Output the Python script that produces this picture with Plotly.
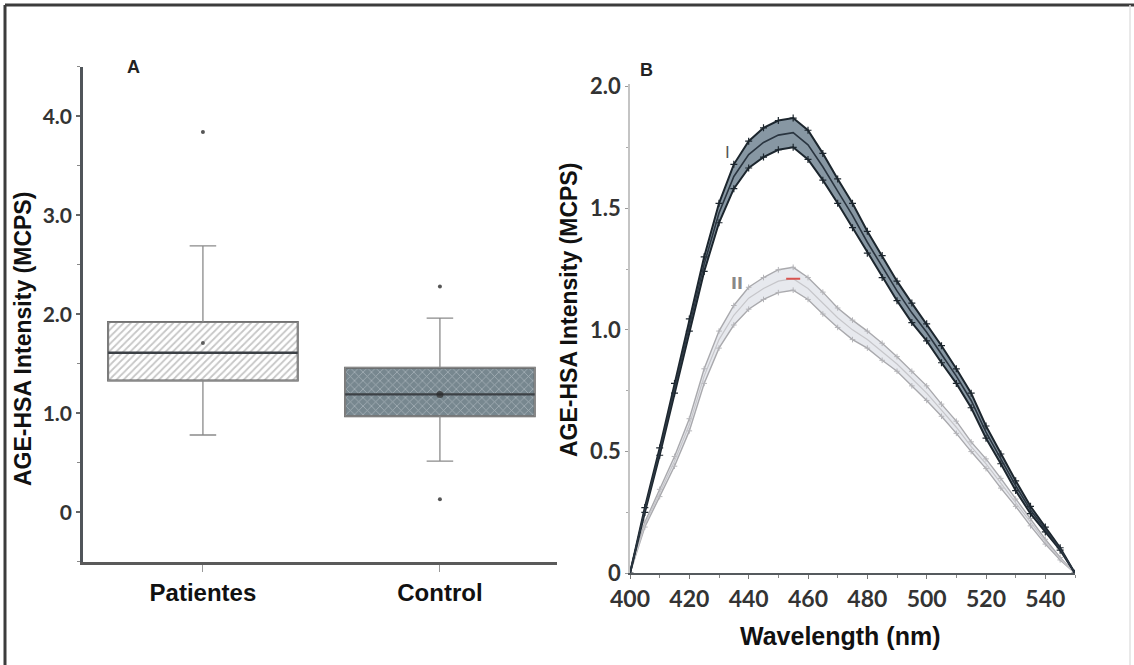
import plotly.graph_objects as go

# ---------------- Panel A data (box statistics) -------------
groups = ["Patientes", "Control"]
group_pos = [0, 1]
q1 = [1.33, 0.97]
median = [1.61, 1.19]
q3 = [1.92, 1.46]
mean = [1.71, 1.19]
lowerfence = [0.78, 0.515]
upperfence = [2.69, 1.96]
outliers_pat = [3.84]
outliers_ctl = [2.28, 0.13]

# ---------------- Panel B data (spectra) ------------------------------------------
wavelength = [400, 405, 410, 415, 420, 425, 430, 435, 440, 445, 450, 455, 460, 465,
              470, 475, 480, 485, 490, 495, 500, 505, 510, 515, 520, 525, 530, 535,
              540, 545, 550]
I_mean = [0.00, 0.26, 0.50, 0.76, 1.02, 1.27, 1.48, 1.63, 1.72, 1.77, 1.80, 1.81,
          1.76, 1.67, 1.57, 1.47, 1.36, 1.26, 1.16, 1.07, 0.99, 0.90, 0.81, 0.71,
          0.58, 0.47, 0.36, 0.26, 0.18, 0.10, 0.00]
I_err = [0.00, 0.01, 0.015, 0.02, 0.025, 0.03, 0.04, 0.05, 0.055, 0.06, 0.06, 0.06,
         0.06, 0.055, 0.05, 0.05, 0.045, 0.045, 0.04, 0.04, 0.035, 0.035, 0.03, 0.03,
         0.025, 0.02, 0.02, 0.015, 0.01, 0.005, 0.00]
II_mean = [0.00, 0.20, 0.33, 0.46, 0.61, 0.81, 0.96, 1.06, 1.13, 1.17, 1.20, 1.21,
           1.17, 1.11, 1.05, 1.00, 0.96, 0.91, 0.86, 0.80, 0.74, 0.67, 0.60, 0.52,
           0.45, 0.37, 0.29, 0.21, 0.13, 0.06, 0.00]
II_err = [0.00, 0.01, 0.015, 0.02, 0.025, 0.03, 0.035, 0.04, 0.045, 0.045, 0.047,
          0.047, 0.045, 0.045, 0.04, 0.04, 0.035, 0.035, 0.03, 0.03, 0.03, 0.025,
          0.025, 0.02, 0.02, 0.02, 0.015, 0.015, 0.01, 0.005, 0.00]

x_ticks_b = [400, 420, 440, 460, 480, 500, 520, 540]
y_ticks_b = [0, 0.5, 1.0, 1.5, 2.0]
y_ticktext_b = ["0", "0.5", "1.0", "1.5", "2.0"]
y_ticks_a = [0, 1, 2, 3, 4]
y_ticktext_a = ["0", "1.0", "2.0", "3.0", "4.0"]

W, H = 1134, 665
def px_x(a, b):
    return [a / W, b / W]
def px_y(top, bottom):
    return [1 - bottom / H, 1 - top / H]

fig = go.Figure()

# ---- Panel A: patterned box bodies (bars from q1 to q3)
bar_patterns = [
    dict(shape="/", fgcolor="#8e8e8e", bgcolor="#ffffff", size=5, solidity=0.35),
    dict(shape="x", fgcolor="#d4dadf", bgcolor="#77878f", size=6, solidity=0.25),
]
for i in range(2):
    fig.add_trace(go.Bar(
        x=[group_pos[i]], y=[q3[i] - q1[i]], base=[q1[i]], width=0.80,
        marker=dict(color="#ffffff", pattern=bar_patterns[i],
                    line=dict(color="#5a5a5a", width=2)),
        xaxis="x", yaxis="y", showlegend=False, hoverinfo="skip"))

# whiskers via box traces
for i in range(2):
    fig.add_trace(go.Box(
        x=[group_pos[i]], q1=[q1[i]], median=[median[i]], q3=[q3[i]],
        lowerfence=[lowerfence[i]], upperfence=[upperfence[i]],
        width=0.80, whiskerwidth=0.14, fillcolor="rgba(0,0,0,0)",
        line=dict(color="#8a8a8a", width=1.3),
        xaxis="x", yaxis="y", showlegend=False, boxpoints=False))
    # dark median line
    fig.add_trace(go.Box(
        x=[group_pos[i]], q1=[median[i]], median=[median[i]], q3=[median[i]],
        lowerfence=[median[i]], upperfence=[median[i]],
        width=0.80, fillcolor="rgba(0,0,0,0)",
        line=dict(color="#3c4146", width=2.4),
        xaxis="x", yaxis="y", showlegend=False, boxpoints=False))

# means and outliers
fig.add_trace(go.Scatter(x=group_pos, y=mean, mode="markers",
                         marker=dict(color="#2a2a2a", size=[4, 7], line=dict(width=0)),
                         xaxis="x", yaxis="y", showlegend=False))
fig.add_trace(go.Scatter(x=[group_pos[0]] * len(outliers_pat) + [group_pos[1]] * len(outliers_ctl),
                         y=outliers_pat + outliers_ctl, mode="markers",
                         marker=dict(color="#555555", size=4, line=dict(width=0)),
                         xaxis="x", yaxis="y", showlegend=False))

# ---- Panel B: spectra with bands
I_up = [m + e for m, e in zip(I_mean, I_err)]
I_lo = [m - e for m, e in zip(I_mean, I_err)]
II_up = [m + e for m, e in zip(II_mean, II_err)]
II_lo = [m - e for m, e in zip(II_mean, II_err)]

mk_dark = dict(symbol="cross-thin", size=5, line=dict(color="#1c262e", width=1.2), color="#1c262e")
mk_light = dict(symbol="cross-thin", size=4, line=dict(color="#b4b4b8", width=1), color="#b4b4b8")

fig.add_trace(go.Scatter(x=wavelength, y=II_up, mode="lines+markers",
                         line=dict(color="#a9a9ad", width=1.4), marker=mk_light,
                         xaxis="x2", yaxis="y2", showlegend=False))
fig.add_trace(go.Scatter(x=wavelength, y=II_lo, mode="lines+markers", fill="tonexty",
                         fillcolor="rgba(225,228,234,0.8)",
                         line=dict(color="#a9a9ad", width=1.4), marker=mk_light,
                         xaxis="x2", yaxis="y2", showlegend=False))
fig.add_trace(go.Scatter(x=wavelength, y=II_mean, mode="lines",
                         line=dict(color="#c6c6ca", width=1.2),
                         xaxis="x2", yaxis="y2", showlegend=False))
peak_i = II_mean.index(max(II_mean))
fig.add_trace(go.Scatter(x=[wavelength[peak_i]], y=[II_mean[peak_i]], mode="markers",
                         marker=dict(symbol="line-ew", size=10,
                                     line=dict(color="#d9534f", width=2)),
                         xaxis="x2", yaxis="y2", showlegend=False))

fig.add_trace(go.Scatter(x=wavelength, y=I_up, mode="lines+markers",
                         line=dict(color="#1c262e", width=2), marker=mk_dark,
                         xaxis="x2", yaxis="y2", showlegend=False))
fig.add_trace(go.Scatter(x=wavelength, y=I_lo, mode="lines+markers", fill="tonexty",
                         fillcolor="#8797a3",
                         line=dict(color="#1c262e", width=2), marker=mk_dark,
                         xaxis="x2", yaxis="y2", showlegend=False))
fig.add_trace(go.Scatter(x=wavelength, y=I_mean, mode="lines",
                         line=dict(color="#2a3540", width=1.6),
                         xaxis="x2", yaxis="y2", showlegend=False))

tick_a = dict(family="Lato", size=21, color="#333333")
tick_by = dict(family="Lato", size=22, color="#333333")
tick_bx = dict(family="Lato", size=23, color="#333333")

fig.update_layout(
    width=W, height=H,
    margin=dict(l=0, r=0, t=0, b=0, autoexpand=False),
    paper_bgcolor="white", plot_bgcolor="white",
    barmode="overlay",
    xaxis=dict(domain=px_x(83, 557), range=[-0.506, 1.494], automargin=False,
               tickvals=group_pos, ticktext=["<b>%s</b>" % g for g in groups],
               tickfont=dict(family="Liberation Sans", size=24, color="#111111"),
               showline=True, linecolor="#5a5a5a", linewidth=3,
               ticks="outside", ticklen=7, tickcolor="#999999", tickwidth=1,
               showgrid=False, zeroline=False, anchor="y", fixedrange=True),
    yaxis=dict(domain=px_y(66.7, 561.7), range=[-0.5, 4.5], automargin=False,
               tickvals=y_ticks_a, ticktext=["<b>%s</b>" % t for t in y_ticktext_a],
               tickfont=tick_a,
               showline=True, linecolor="#50555a", linewidth=2.5,
               ticks="outside", ticklen=4, tickcolor="#666666", tickwidth=1.5,
               minor=dict(dtick=0.5, tick0=0, ticks="outside", ticklen=3,
                          tickcolor="#888888", tickwidth=1),
               showgrid=False, zeroline=False, anchor="x", fixedrange=True),
    xaxis2=dict(domain=px_x(630, 1075), range=[400, 550], automargin=False,
                tickvals=x_ticks_b, ticktext=["<b>%d</b>" % t for t in x_ticks_b],
                tickfont=tick_bx,
                showline=True, linecolor="#555a5e", linewidth=2,
                ticks="outside", ticklen=4, tickcolor="#777777", tickwidth=1.2,
                minor=dict(dtick=10, tick0=400, ticks="outside", ticklen=3,
                           tickcolor="#888888", tickwidth=1),
                showgrid=False, zeroline=False, anchor="y2", fixedrange=True),
    yaxis2=dict(domain=px_y(84, 573.3), range=[0, 2.01], automargin=False,
                tickvals=y_ticks_b, ticktext=["<b>%s</b>" % t for t in y_ticktext_b],
                tickfont=tick_by,
                showline=True, linecolor="#c4c4c4", linewidth=1.5,
                ticks="outside", ticklen=3, tickcolor="#999999", tickwidth=1,
                minor=dict(dtick=0.25, tick0=0, ticks="outside", ticklen=2,
                           tickcolor="#aaaaaa", tickwidth=1),
                showgrid=False, zeroline=False, anchor="x2", fixedrange=True),
)

def ann(**kw):
    kw.setdefault("xanchor", "center")
    kw.setdefault("yanchor", "middle")
    kw.setdefault("showarrow", False)
    fig.add_annotation(**kw)

title_font = dict(family="Liberation Sans", size=23, color="#111111")
ann(text="<b>AGE-HSA Intensity (MCPS)</b>", textangle=-90,
    x=23 / W, y=1 - 339 / H, xref="paper", yref="paper", font=title_font)
ann(text="<b>AGE-HSA Intensity (MCPS)</b>", textangle=-90,
    x=569 / W, y=1 - 310 / H, xref="paper", yref="paper", font=title_font)
ann(text="<b>Wavelength (nm)</b>", x=840 / W, y=1 - 636 / H,
    xref="paper", yref="paper",
    font=dict(family="Liberation Sans", size=25, color="#111111"))
ann(text="<b>A</b>", x=133 / W, y=1 - 67 / H, xref="paper", yref="paper",
    font=dict(family="Liberation Sans", size=18, color="#222"))
ann(text="<b>B</b>", x=646 / W, y=1 - 70 / H, xref="paper", yref="paper",
    font=dict(family="Liberation Sans", size=18, color="#222"))
ann(text="I", x=433, y=1.73, xref="x2", yref="y2",
    font=dict(family="DejaVu Sans", size=16, color="#555555"))
ann(text="<b>II</b>", x=436, y=1.19, xref="x2", yref="y2",
    font=dict(family="DejaVu Sans", size=16, color="#888888"))

# outer frame of the figure
fig.add_shape(type="line", xref="paper", yref="paper", x0=5 / W, x1=1, y0=1 - 5 / H, y1=1 - 5 / H,
              line=dict(color="#3c3c3c", width=3))
fig.add_shape(type="line", xref="paper", yref="paper", x0=5 / W, x1=5 / W, y0=0, y1=1 - 5 / H,
              line=dict(color="#3c3c3c", width=3))
fig.add_shape(type="line", xref="paper", yref="paper", x0=1130 / W, x1=1130 / W, y0=0, y1=1 - 5 / H,
              line=dict(color="#e2e2e2", width=1.5))

fig.write_html("out.html", config={"displayModeBar": False},
               post_script="document.body.style.margin='0px';")
